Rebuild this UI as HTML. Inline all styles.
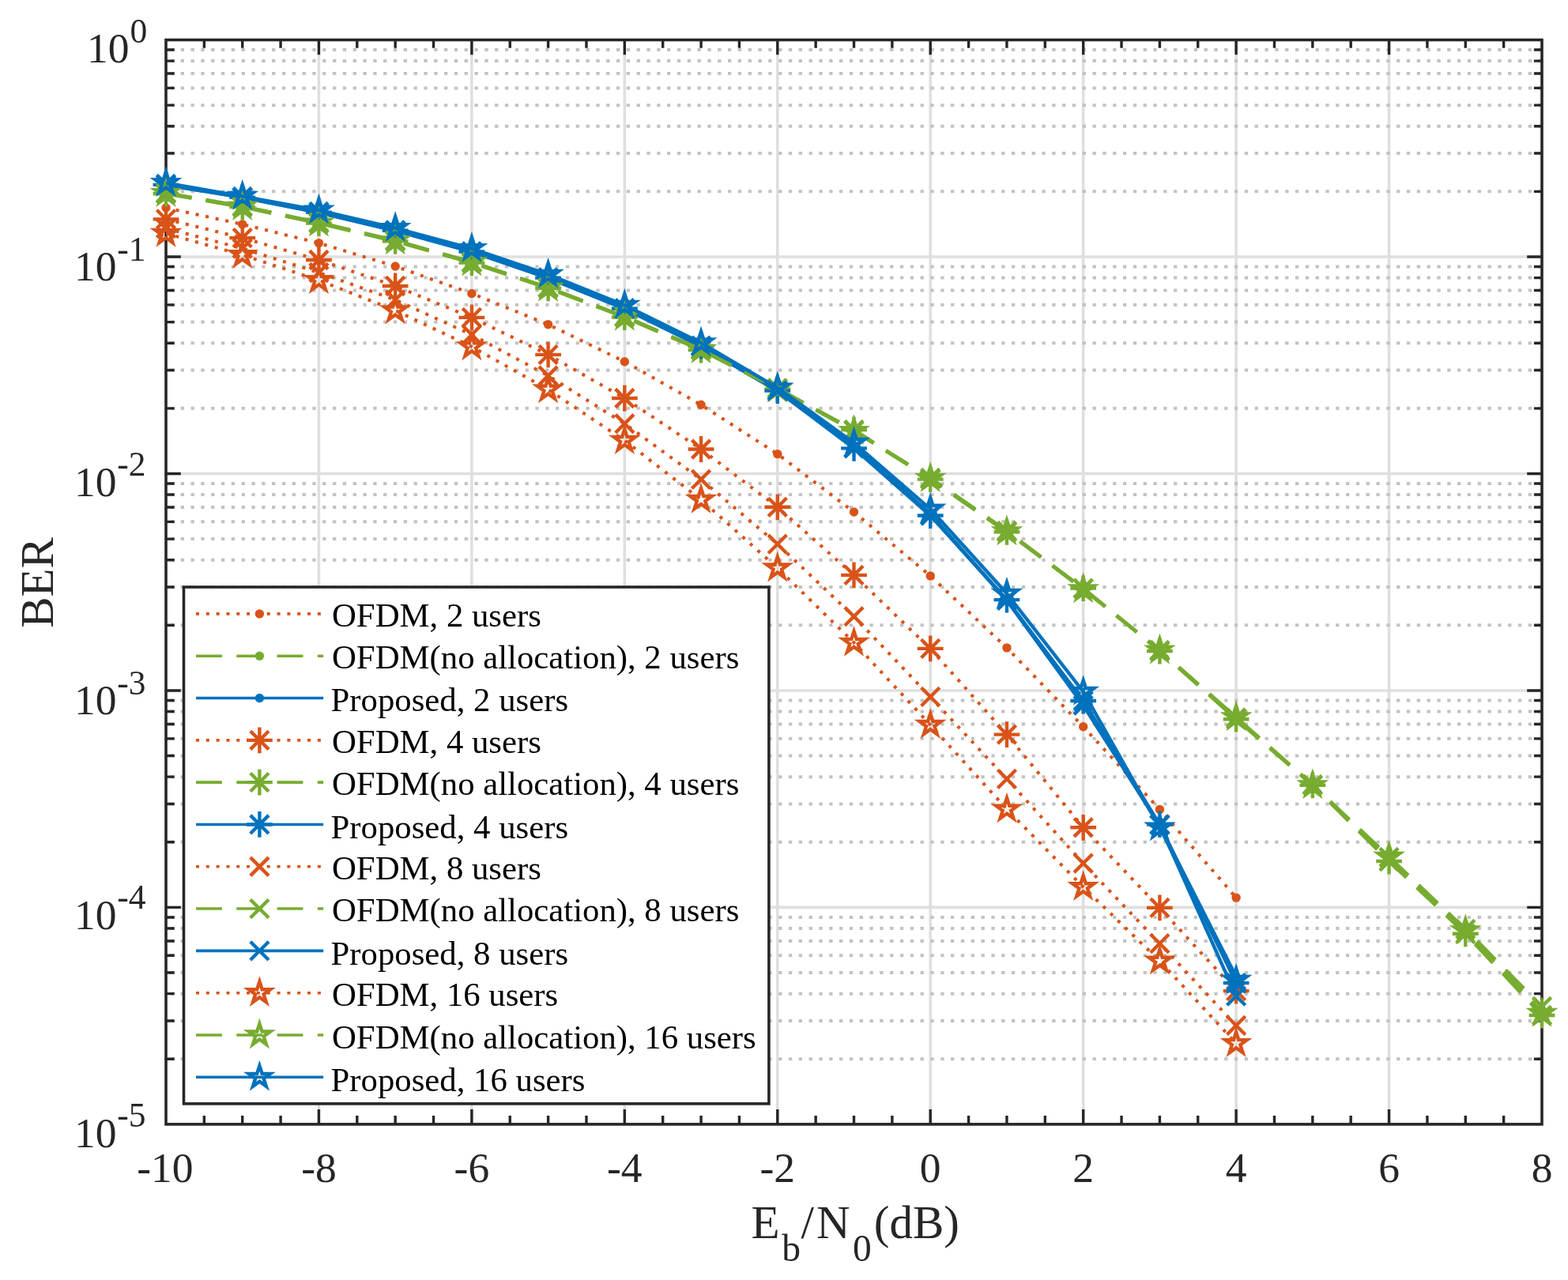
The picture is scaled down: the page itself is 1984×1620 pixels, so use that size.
<!DOCTYPE html>
<html lang="en"><head><meta charset="utf-8"><title>BER versus Eb/N0</title>
<style>html,body{margin:0;padding:0;background:#fff}body{width:1984px;height:1620px;overflow:hidden}svg{display:block}text{font-family:"Liberation Serif",serif}</style></head><body>
<svg width="1984" height="1620" viewBox="0 0 1984 1620" role="img" aria-label="BER versus Eb/N0 for OFDM and proposed schemes">
<rect width="1984" height="1620" fill="#fff"/>
<defs><clipPath id="plot"><rect x="210" y="50.5" width="1741" height="1372.4"/></clipPath></defs>
<path d="M403.44 50.5V1422.9M596.89 50.5V1422.9M790.33 50.5V1422.9M983.78 50.5V1422.9M1177.22 50.5V1422.9M1370.67 50.5V1422.9M1564.11 50.5V1422.9M1757.56 50.5V1422.9M210 324.98H1951M210 599.46H1951M210 873.94H1951M210 1148.42H1951" stroke="#dfdfdf" stroke-width="3.6" fill="none"/>
<g stroke="#c2c2c2" stroke-width="4" stroke-dasharray="4.3 8.52" stroke-dashoffset="6.94" fill="none">
<path d="M210 242.35H1951M210 194.02H1951M210 159.73H1951M210 133.13H1951M210 111.39H1951M210 93.02H1951M210 77.1H1951M210 63.06H1951M210 516.83H1951M210 468.5H1951M210 434.21H1951M210 407.61H1951M210 385.87H1951M210 367.5H1951M210 351.58H1951M210 337.54H1951M210 791.31H1951M210 742.98H1951M210 708.69H1951M210 682.09H1951M210 660.35H1951M210 641.98H1951M210 626.06H1951M210 612.02H1951M210 1065.79H1951M210 1017.46H1951M210 983.17H1951M210 956.57H1951M210 934.83H1951M210 916.46H1951M210 900.54H1951M210 886.5H1951M210 1340.27H1951M210 1291.94H1951M210 1257.65H1951M210 1231.05H1951M210 1209.31H1951M210 1190.94H1951M210 1175.02H1951M210 1160.98H1951"/>
</g>
<path d="M258.36 1422.9v-10.8M258.36 50.5v10.3M306.72 1422.9v-10.8M306.72 50.5v10.3M355.08 1422.9v-10.8M355.08 50.5v10.3M403.44 1422.9v-18.8M403.44 50.5v18.8M451.81 1422.9v-10.8M451.81 50.5v10.3M500.17 1422.9v-10.8M500.17 50.5v10.3M548.53 1422.9v-10.8M548.53 50.5v10.3M596.89 1422.9v-18.8M596.89 50.5v18.8M645.25 1422.9v-10.8M645.25 50.5v10.3M693.61 1422.9v-10.8M693.61 50.5v10.3M741.97 1422.9v-10.8M741.97 50.5v10.3M790.33 1422.9v-18.8M790.33 50.5v18.8M838.69 1422.9v-10.8M838.69 50.5v10.3M887.06 1422.9v-10.8M887.06 50.5v10.3M935.42 1422.9v-10.8M935.42 50.5v10.3M983.78 1422.9v-18.8M983.78 50.5v18.8M1032.14 1422.9v-10.8M1032.14 50.5v10.3M1080.5 1422.9v-10.8M1080.5 50.5v10.3M1128.86 1422.9v-10.8M1128.86 50.5v10.3M1177.22 1422.9v-18.8M1177.22 50.5v18.8M1225.58 1422.9v-10.8M1225.58 50.5v10.3M1273.94 1422.9v-10.8M1273.94 50.5v10.3M1322.31 1422.9v-10.8M1322.31 50.5v10.3M1370.67 1422.9v-18.8M1370.67 50.5v18.8M1419.03 1422.9v-10.8M1419.03 50.5v10.3M1467.39 1422.9v-10.8M1467.39 50.5v10.3M1515.75 1422.9v-10.8M1515.75 50.5v10.3M1564.11 1422.9v-18.8M1564.11 50.5v18.8M1612.47 1422.9v-10.8M1612.47 50.5v10.3M1660.83 1422.9v-10.8M1660.83 50.5v10.3M1709.19 1422.9v-10.8M1709.19 50.5v10.3M1757.56 1422.9v-18.8M1757.56 50.5v18.8M1805.92 1422.9v-10.8M1805.92 50.5v10.3M1854.28 1422.9v-10.8M1854.28 50.5v10.3M1902.64 1422.9v-10.8M1902.64 50.5v10.3M210 324.98h18.8M1951 324.98h-18.8M210 242.35h10.8M1951 242.35h-10.1M210 194.02h10.8M1951 194.02h-10.1M210 159.73h10.8M1951 159.73h-10.1M210 133.13h10.8M1951 133.13h-10.1M210 111.39h10.8M1951 111.39h-10.1M210 93.02h10.8M1951 93.02h-10.1M210 77.1h10.8M1951 77.1h-10.1M210 63.06h10.8M1951 63.06h-10.1M210 599.46h18.8M1951 599.46h-18.8M210 516.83h10.8M1951 516.83h-10.1M210 468.5h10.8M1951 468.5h-10.1M210 434.21h10.8M1951 434.21h-10.1M210 407.61h10.8M1951 407.61h-10.1M210 385.87h10.8M1951 385.87h-10.1M210 367.5h10.8M1951 367.5h-10.1M210 351.58h10.8M1951 351.58h-10.1M210 337.54h10.8M1951 337.54h-10.1M210 873.94h18.8M1951 873.94h-18.8M210 791.31h10.8M1951 791.31h-10.1M210 742.98h10.8M1951 742.98h-10.1M210 708.69h10.8M1951 708.69h-10.1M210 682.09h10.8M1951 682.09h-10.1M210 660.35h10.8M1951 660.35h-10.1M210 641.98h10.8M1951 641.98h-10.1M210 626.06h10.8M1951 626.06h-10.1M210 612.02h10.8M1951 612.02h-10.1M210 1148.42h18.8M1951 1148.42h-18.8M210 1065.79h10.8M1951 1065.79h-10.1M210 1017.46h10.8M1951 1017.46h-10.1M210 983.17h10.8M1951 983.17h-10.1M210 956.57h10.8M1951 956.57h-10.1M210 934.83h10.8M1951 934.83h-10.1M210 916.46h10.8M1951 916.46h-10.1M210 900.54h10.8M1951 900.54h-10.1M210 886.5h10.8M1951 886.5h-10.1M210 1340.27h10.8M1951 1340.27h-10.1M210 1291.94h10.8M1951 1291.94h-10.1M210 1257.65h10.8M1951 1257.65h-10.1M210 1231.05h10.8M1951 1231.05h-10.1M210 1209.31h10.8M1951 1209.31h-10.1M210 1190.94h10.8M1951 1190.94h-10.1M210 1175.02h10.8M1951 1175.02h-10.1M210 1160.98h10.8M1951 1160.98h-10.1" stroke="#262626" stroke-width="3.4" fill="none"/>
<rect x="210" y="50.5" width="1741" height="1372.4" fill="none" stroke="#262626" stroke-width="3.6"/>
<g>
<polyline points="210,263 306.72,283.9 403.44,307.6 500.17,337 596.89,371.5 693.61,410.6 790.33,457.7 887.06,512.3 983.78,574.6 1080.5,648 1177.22,728.9 1273.94,819.9 1370.67,919.8 1467.39,1024.4 1564.11,1136.1" fill="none" stroke="#D95319" stroke-width="4.1" stroke-dasharray="4 8.82" clip-path="url(#plot)"/>
<circle cx="210" cy="263" r="5.7" fill="#D95319"/><circle cx="306.72" cy="283.9" r="5.7" fill="#D95319"/><circle cx="403.44" cy="307.6" r="5.7" fill="#D95319"/><circle cx="500.17" cy="337" r="5.7" fill="#D95319"/><circle cx="596.89" cy="371.5" r="5.7" fill="#D95319"/><circle cx="693.61" cy="410.6" r="5.7" fill="#D95319"/><circle cx="790.33" cy="457.7" r="5.7" fill="#D95319"/><circle cx="887.06" cy="512.3" r="5.7" fill="#D95319"/><circle cx="983.78" cy="574.6" r="5.7" fill="#D95319"/><circle cx="1080.5" cy="648" r="5.7" fill="#D95319"/><circle cx="1177.22" cy="728.9" r="5.7" fill="#D95319"/><circle cx="1273.94" cy="819.9" r="5.7" fill="#D95319"/><circle cx="1370.67" cy="919.8" r="5.7" fill="#D95319"/><circle cx="1467.39" cy="1024.4" r="5.7" fill="#D95319"/><circle cx="1564.11" cy="1136.1" r="5.7" fill="#D95319"/>
</g>
<g>
<polyline points="210,244.8 306.72,261.6 403.44,282.2 500.17,305 596.89,332.2 693.61,364.4 790.33,401.2 887.06,442.6 983.78,492.2 1080.5,545.2 1177.22,605.8 1273.94,672.8 1370.67,745.2 1467.39,823.4 1564.11,909 1660.83,993.6 1757.56,1087 1854.28,1179.5 1951,1281" fill="none" stroke="#77AC30" stroke-width="4.4" stroke-dasharray="32.9 18.38" clip-path="url(#plot)"/>
<circle cx="210" cy="244.8" r="5.7" fill="#77AC30"/><circle cx="306.72" cy="261.6" r="5.7" fill="#77AC30"/><circle cx="403.44" cy="282.2" r="5.7" fill="#77AC30"/><circle cx="500.17" cy="305" r="5.7" fill="#77AC30"/><circle cx="596.89" cy="332.2" r="5.7" fill="#77AC30"/><circle cx="693.61" cy="364.4" r="5.7" fill="#77AC30"/><circle cx="790.33" cy="401.2" r="5.7" fill="#77AC30"/><circle cx="887.06" cy="442.6" r="5.7" fill="#77AC30"/><circle cx="983.78" cy="492.2" r="5.7" fill="#77AC30"/><circle cx="1080.5" cy="545.2" r="5.7" fill="#77AC30"/><circle cx="1177.22" cy="605.8" r="5.7" fill="#77AC30"/><circle cx="1273.94" cy="672.8" r="5.7" fill="#77AC30"/><circle cx="1370.67" cy="745.2" r="5.7" fill="#77AC30"/><circle cx="1467.39" cy="823.4" r="5.7" fill="#77AC30"/><circle cx="1564.11" cy="909" r="5.7" fill="#77AC30"/><circle cx="1660.83" cy="993.6" r="5.7" fill="#77AC30"/><circle cx="1757.56" cy="1087" r="5.7" fill="#77AC30"/><circle cx="1854.28" cy="1179.5" r="5.7" fill="#77AC30"/><circle cx="1951" cy="1281" r="5.7" fill="#77AC30"/>
</g>
<g>
<polyline points="210,234.2 306.72,250 403.44,269 500.17,292 596.89,318.7 693.61,351.8 790.33,390.8 887.06,438.2 983.78,494.9 1080.5,564 1177.22,650.5 1273.94,759.5 1370.67,890 1467.39,1045.5 1564.11,1236" fill="none" stroke="#0072BD" stroke-width="4.4" clip-path="url(#plot)"/>
<circle cx="210" cy="234.2" r="5.7" fill="#0072BD"/><circle cx="306.72" cy="250" r="5.7" fill="#0072BD"/><circle cx="403.44" cy="269" r="5.7" fill="#0072BD"/><circle cx="500.17" cy="292" r="5.7" fill="#0072BD"/><circle cx="596.89" cy="318.7" r="5.7" fill="#0072BD"/><circle cx="693.61" cy="351.8" r="5.7" fill="#0072BD"/><circle cx="790.33" cy="390.8" r="5.7" fill="#0072BD"/><circle cx="887.06" cy="438.2" r="5.7" fill="#0072BD"/><circle cx="983.78" cy="494.9" r="5.7" fill="#0072BD"/><circle cx="1080.5" cy="564" r="5.7" fill="#0072BD"/><circle cx="1177.22" cy="650.5" r="5.7" fill="#0072BD"/><circle cx="1273.94" cy="759.5" r="5.7" fill="#0072BD"/><circle cx="1370.67" cy="890" r="5.7" fill="#0072BD"/><circle cx="1467.39" cy="1045.5" r="5.7" fill="#0072BD"/><circle cx="1564.11" cy="1236" r="5.7" fill="#0072BD"/>
</g>
<g>
<polyline points="210,277.4 306.72,301.1 403.44,329 500.17,362 596.89,401.9 693.61,448.9 790.33,504 887.06,568.5 983.78,641.8 1080.5,727.9 1177.22,820.9 1273.94,929.6 1370.67,1047.3 1467.39,1148.9 1564.11,1254.1" fill="none" stroke="#D95319" stroke-width="4.1" stroke-dasharray="4 8.82" clip-path="url(#plot)"/>
<path d="M198.4 265.8L221.6 289M198.4 289L221.6 265.8M193.6 277.4H226.4M210 261V293.8" fill="none" stroke="#D95319" stroke-width="4.4"/><path d="M295.13 289.5L318.32 312.7M295.13 312.7L318.32 289.5M290.32 301.1H323.12M306.72 284.7V317.5" fill="none" stroke="#D95319" stroke-width="4.4"/><path d="M391.85 317.4L415.04 340.6M391.85 340.6L415.04 317.4M387.04 329H419.84M403.44 312.6V345.4" fill="none" stroke="#D95319" stroke-width="4.4"/><path d="M488.57 350.4L511.76 373.6M488.57 373.6L511.76 350.4M483.77 362H516.57M500.17 345.6V378.4" fill="none" stroke="#D95319" stroke-width="4.4"/><path d="M585.29 390.3L608.49 413.5M585.29 413.5L608.49 390.3M580.49 401.9H613.29M596.89 385.5V418.3" fill="none" stroke="#D95319" stroke-width="4.4"/><path d="M682.01 437.3L705.21 460.5M682.01 460.5L705.21 437.3M677.21 448.9H710.01M693.61 432.5V465.3" fill="none" stroke="#D95319" stroke-width="4.4"/><path d="M778.74 492.4L801.93 515.6M778.74 515.6L801.93 492.4M773.93 504H806.73M790.33 487.6V520.4" fill="none" stroke="#D95319" stroke-width="4.4"/><path d="M875.46 556.9L898.65 580.1M875.46 580.1L898.65 556.9M870.66 568.5H903.46M887.06 552.1V584.9" fill="none" stroke="#D95319" stroke-width="4.4"/><path d="M972.18 630.2L995.37 653.4M972.18 653.4L995.37 630.2M967.38 641.8H1000.18M983.78 625.4V658.2" fill="none" stroke="#D95319" stroke-width="4.4"/><path d="M1068.9 716.3L1092.1 739.5M1068.9 739.5L1092.1 716.3M1064.1 727.9H1096.9M1080.5 711.5V744.3" fill="none" stroke="#D95319" stroke-width="4.4"/><path d="M1165.63 809.3L1188.82 832.5M1165.63 832.5L1188.82 809.3M1160.82 820.9H1193.62M1177.22 804.5V837.3" fill="none" stroke="#D95319" stroke-width="4.4"/><path d="M1262.35 918L1285.54 941.2M1262.35 941.2L1285.54 918M1257.54 929.6H1290.34M1273.94 913.2V946" fill="none" stroke="#D95319" stroke-width="4.4"/><path d="M1359.07 1035.7L1382.26 1058.9M1359.07 1058.9L1382.26 1035.7M1354.27 1047.3H1387.07M1370.67 1030.9V1063.7" fill="none" stroke="#D95319" stroke-width="4.4"/><path d="M1455.79 1137.3L1478.99 1160.5M1455.79 1160.5L1478.99 1137.3M1450.99 1148.9H1483.79M1467.39 1132.5V1165.3" fill="none" stroke="#D95319" stroke-width="4.4"/><path d="M1552.51 1242.5L1575.71 1265.7M1552.51 1265.7L1575.71 1242.5M1547.71 1254.1H1580.51M1564.11 1237.7V1270.5" fill="none" stroke="#D95319" stroke-width="4.4"/>
</g>
<g>
<polyline points="210,245.2 306.72,262 403.44,282.6 500.17,305.4 596.89,332.6 693.61,364.8 790.33,401.5 887.06,443 983.78,492.4 1080.5,544 1177.22,606.6 1273.94,673.3 1370.67,744.6 1467.39,824 1564.11,910.2 1660.83,993.9 1757.56,1090 1854.28,1181.8 1951,1285" fill="none" stroke="#77AC30" stroke-width="4.4" stroke-dasharray="32.9 18.38" clip-path="url(#plot)"/>
<path d="M198.4 233.6L221.6 256.8M198.4 256.8L221.6 233.6M193.6 245.2H226.4M210 228.8V261.6" fill="none" stroke="#77AC30" stroke-width="4.4"/><path d="M295.13 250.4L318.32 273.6M295.13 273.6L318.32 250.4M290.32 262H323.12M306.72 245.6V278.4" fill="none" stroke="#77AC30" stroke-width="4.4"/><path d="M391.85 271L415.04 294.2M391.85 294.2L415.04 271M387.04 282.6H419.84M403.44 266.2V299" fill="none" stroke="#77AC30" stroke-width="4.4"/><path d="M488.57 293.8L511.76 317M488.57 317L511.76 293.8M483.77 305.4H516.57M500.17 289V321.8" fill="none" stroke="#77AC30" stroke-width="4.4"/><path d="M585.29 321L608.49 344.2M585.29 344.2L608.49 321M580.49 332.6H613.29M596.89 316.2V349" fill="none" stroke="#77AC30" stroke-width="4.4"/><path d="M682.01 353.2L705.21 376.4M682.01 376.4L705.21 353.2M677.21 364.8H710.01M693.61 348.4V381.2" fill="none" stroke="#77AC30" stroke-width="4.4"/><path d="M778.74 389.9L801.93 413.1M778.74 413.1L801.93 389.9M773.93 401.5H806.73M790.33 385.1V417.9" fill="none" stroke="#77AC30" stroke-width="4.4"/><path d="M875.46 431.4L898.65 454.6M875.46 454.6L898.65 431.4M870.66 443H903.46M887.06 426.6V459.4" fill="none" stroke="#77AC30" stroke-width="4.4"/><path d="M972.18 480.8L995.37 504M972.18 504L995.37 480.8M967.38 492.4H1000.18M983.78 476V508.8" fill="none" stroke="#77AC30" stroke-width="4.4"/><path d="M1068.9 532.4L1092.1 555.6M1068.9 555.6L1092.1 532.4M1064.1 544H1096.9M1080.5 527.6V560.4" fill="none" stroke="#77AC30" stroke-width="4.4"/><path d="M1165.63 595L1188.82 618.2M1165.63 618.2L1188.82 595M1160.82 606.6H1193.62M1177.22 590.2V623" fill="none" stroke="#77AC30" stroke-width="4.4"/><path d="M1262.35 661.7L1285.54 684.9M1262.35 684.9L1285.54 661.7M1257.54 673.3H1290.34M1273.94 656.9V689.7" fill="none" stroke="#77AC30" stroke-width="4.4"/><path d="M1359.07 733L1382.26 756.2M1359.07 756.2L1382.26 733M1354.27 744.6H1387.07M1370.67 728.2V761" fill="none" stroke="#77AC30" stroke-width="4.4"/><path d="M1455.79 812.4L1478.99 835.6M1455.79 835.6L1478.99 812.4M1450.99 824H1483.79M1467.39 807.6V840.4" fill="none" stroke="#77AC30" stroke-width="4.4"/><path d="M1552.51 898.6L1575.71 921.8M1552.51 921.8L1575.71 898.6M1547.71 910.2H1580.51M1564.11 893.8V926.6" fill="none" stroke="#77AC30" stroke-width="4.4"/><path d="M1649.24 982.3L1672.43 1005.5M1649.24 1005.5L1672.43 982.3M1644.43 993.9H1677.23M1660.83 977.5V1010.3" fill="none" stroke="#77AC30" stroke-width="4.4"/><path d="M1745.96 1078.4L1769.15 1101.6M1745.96 1101.6L1769.15 1078.4M1741.16 1090H1773.96M1757.56 1073.6V1106.4" fill="none" stroke="#77AC30" stroke-width="4.4"/><path d="M1842.68 1170.2L1865.87 1193.4M1842.68 1193.4L1865.87 1170.2M1837.88 1181.8H1870.68M1854.28 1165.4V1198.2" fill="none" stroke="#77AC30" stroke-width="4.4"/><path d="M1939.4 1273.4L1962.6 1296.6M1939.4 1296.6L1962.6 1273.4M1934.6 1285H1967.4M1951 1268.6V1301.4" fill="none" stroke="#77AC30" stroke-width="4.4"/>
</g>
<g>
<polyline points="210,233.9 306.72,249.7 403.44,268.8 500.17,291.8 596.89,318.5 693.61,351.6 790.33,390.5 887.06,437.9 983.78,494.6 1080.5,567.4 1177.22,652.5 1273.94,759.1 1370.67,887 1467.39,1043.5 1564.11,1244.1" fill="none" stroke="#0072BD" stroke-width="4.4" clip-path="url(#plot)"/>
<path d="M198.4 222.3L221.6 245.5M198.4 245.5L221.6 222.3M193.6 233.9H226.4M210 217.5V250.3" fill="none" stroke="#0072BD" stroke-width="4.4"/><path d="M295.13 238.1L318.32 261.3M295.13 261.3L318.32 238.1M290.32 249.7H323.12M306.72 233.3V266.1" fill="none" stroke="#0072BD" stroke-width="4.4"/><path d="M391.85 257.2L415.04 280.4M391.85 280.4L415.04 257.2M387.04 268.8H419.84M403.44 252.4V285.2" fill="none" stroke="#0072BD" stroke-width="4.4"/><path d="M488.57 280.2L511.76 303.4M488.57 303.4L511.76 280.2M483.77 291.8H516.57M500.17 275.4V308.2" fill="none" stroke="#0072BD" stroke-width="4.4"/><path d="M585.29 306.9L608.49 330.1M585.29 330.1L608.49 306.9M580.49 318.5H613.29M596.89 302.1V334.9" fill="none" stroke="#0072BD" stroke-width="4.4"/><path d="M682.01 340L705.21 363.2M682.01 363.2L705.21 340M677.21 351.6H710.01M693.61 335.2V368" fill="none" stroke="#0072BD" stroke-width="4.4"/><path d="M778.74 378.9L801.93 402.1M778.74 402.1L801.93 378.9M773.93 390.5H806.73M790.33 374.1V406.9" fill="none" stroke="#0072BD" stroke-width="4.4"/><path d="M875.46 426.3L898.65 449.5M875.46 449.5L898.65 426.3M870.66 437.9H903.46M887.06 421.5V454.3" fill="none" stroke="#0072BD" stroke-width="4.4"/><path d="M972.18 483L995.37 506.2M972.18 506.2L995.37 483M967.38 494.6H1000.18M983.78 478.2V511" fill="none" stroke="#0072BD" stroke-width="4.4"/><path d="M1068.9 555.8L1092.1 579M1068.9 579L1092.1 555.8M1064.1 567.4H1096.9M1080.5 551V583.8" fill="none" stroke="#0072BD" stroke-width="4.4"/><path d="M1165.63 640.9L1188.82 664.1M1165.63 664.1L1188.82 640.9M1160.82 652.5H1193.62M1177.22 636.1V668.9" fill="none" stroke="#0072BD" stroke-width="4.4"/><path d="M1262.35 747.5L1285.54 770.7M1262.35 770.7L1285.54 747.5M1257.54 759.1H1290.34M1273.94 742.7V775.5" fill="none" stroke="#0072BD" stroke-width="4.4"/><path d="M1359.07 875.4L1382.26 898.6M1359.07 898.6L1382.26 875.4M1354.27 887H1387.07M1370.67 870.6V903.4" fill="none" stroke="#0072BD" stroke-width="4.4"/><path d="M1455.79 1031.9L1478.99 1055.1M1455.79 1055.1L1478.99 1031.9M1450.99 1043.5H1483.79M1467.39 1027.1V1059.9" fill="none" stroke="#0072BD" stroke-width="4.4"/><path d="M1552.51 1232.5L1575.71 1255.7M1552.51 1255.7L1575.71 1232.5M1547.71 1244.1H1580.51M1564.11 1227.7V1260.5" fill="none" stroke="#0072BD" stroke-width="4.4"/>
</g>
<g>
<polyline points="210,289 306.72,314.5 403.44,345 500.17,379.5 596.89,423.6 693.61,475.5 790.33,536.2 887.06,606.7 983.78,688.6 1080.5,780.2 1177.22,881.9 1273.94,985.9 1370.67,1092.6 1467.39,1194.1 1564.11,1297.9" fill="none" stroke="#D95319" stroke-width="4.1" stroke-dasharray="4 8.82" clip-path="url(#plot)"/>
<path d="M198.4 277.4L221.6 300.6M198.4 300.6L221.6 277.4" fill="none" stroke="#D95319" stroke-width="4.4"/><path d="M295.13 302.9L318.32 326.1M295.13 326.1L318.32 302.9" fill="none" stroke="#D95319" stroke-width="4.4"/><path d="M391.85 333.4L415.04 356.6M391.85 356.6L415.04 333.4" fill="none" stroke="#D95319" stroke-width="4.4"/><path d="M488.57 367.9L511.76 391.1M488.57 391.1L511.76 367.9" fill="none" stroke="#D95319" stroke-width="4.4"/><path d="M585.29 412L608.49 435.2M585.29 435.2L608.49 412" fill="none" stroke="#D95319" stroke-width="4.4"/><path d="M682.01 463.9L705.21 487.1M682.01 487.1L705.21 463.9" fill="none" stroke="#D95319" stroke-width="4.4"/><path d="M778.74 524.6L801.93 547.8M778.74 547.8L801.93 524.6" fill="none" stroke="#D95319" stroke-width="4.4"/><path d="M875.46 595.1L898.65 618.3M875.46 618.3L898.65 595.1" fill="none" stroke="#D95319" stroke-width="4.4"/><path d="M972.18 677L995.37 700.2M972.18 700.2L995.37 677" fill="none" stroke="#D95319" stroke-width="4.4"/><path d="M1068.9 768.6L1092.1 791.8M1068.9 791.8L1092.1 768.6" fill="none" stroke="#D95319" stroke-width="4.4"/><path d="M1165.63 870.3L1188.82 893.5M1165.63 893.5L1188.82 870.3" fill="none" stroke="#D95319" stroke-width="4.4"/><path d="M1262.35 974.3L1285.54 997.5M1262.35 997.5L1285.54 974.3" fill="none" stroke="#D95319" stroke-width="4.4"/><path d="M1359.07 1081L1382.26 1104.2M1359.07 1104.2L1382.26 1081" fill="none" stroke="#D95319" stroke-width="4.4"/><path d="M1455.79 1182.5L1478.99 1205.7M1455.79 1205.7L1478.99 1182.5" fill="none" stroke="#D95319" stroke-width="4.4"/><path d="M1552.51 1286.3L1575.71 1309.5M1552.51 1309.5L1575.71 1286.3" fill="none" stroke="#D95319" stroke-width="4.4"/>
</g>
<g>
<polyline points="210,244.2 306.72,261 403.44,281.6 500.17,304.4 596.89,331.6 693.61,363.8 790.33,400.6 887.06,442 983.78,491.2 1080.5,545 1177.22,605 1273.94,672 1370.67,745 1467.39,823 1564.11,908.5 1660.83,993 1757.56,1085 1854.28,1176 1951,1274" fill="none" stroke="#77AC30" stroke-width="4.4" stroke-dasharray="32.9 18.38" clip-path="url(#plot)"/>
<path d="M198.4 232.6L221.6 255.8M198.4 255.8L221.6 232.6" fill="none" stroke="#77AC30" stroke-width="4.4"/><path d="M295.13 249.4L318.32 272.6M295.13 272.6L318.32 249.4" fill="none" stroke="#77AC30" stroke-width="4.4"/><path d="M391.85 270L415.04 293.2M391.85 293.2L415.04 270" fill="none" stroke="#77AC30" stroke-width="4.4"/><path d="M488.57 292.8L511.76 316M488.57 316L511.76 292.8" fill="none" stroke="#77AC30" stroke-width="4.4"/><path d="M585.29 320L608.49 343.2M585.29 343.2L608.49 320" fill="none" stroke="#77AC30" stroke-width="4.4"/><path d="M682.01 352.2L705.21 375.4M682.01 375.4L705.21 352.2" fill="none" stroke="#77AC30" stroke-width="4.4"/><path d="M778.74 389L801.93 412.2M778.74 412.2L801.93 389" fill="none" stroke="#77AC30" stroke-width="4.4"/><path d="M875.46 430.4L898.65 453.6M875.46 453.6L898.65 430.4" fill="none" stroke="#77AC30" stroke-width="4.4"/><path d="M972.18 479.6L995.37 502.8M972.18 502.8L995.37 479.6" fill="none" stroke="#77AC30" stroke-width="4.4"/><path d="M1068.9 533.4L1092.1 556.6M1068.9 556.6L1092.1 533.4" fill="none" stroke="#77AC30" stroke-width="4.4"/><path d="M1165.63 593.4L1188.82 616.6M1165.63 616.6L1188.82 593.4" fill="none" stroke="#77AC30" stroke-width="4.4"/><path d="M1262.35 660.4L1285.54 683.6M1262.35 683.6L1285.54 660.4" fill="none" stroke="#77AC30" stroke-width="4.4"/><path d="M1359.07 733.4L1382.26 756.6M1359.07 756.6L1382.26 733.4" fill="none" stroke="#77AC30" stroke-width="4.4"/><path d="M1455.79 811.4L1478.99 834.6M1455.79 834.6L1478.99 811.4" fill="none" stroke="#77AC30" stroke-width="4.4"/><path d="M1552.51 896.9L1575.71 920.1M1552.51 920.1L1575.71 896.9" fill="none" stroke="#77AC30" stroke-width="4.4"/><path d="M1649.24 981.4L1672.43 1004.6M1649.24 1004.6L1672.43 981.4" fill="none" stroke="#77AC30" stroke-width="4.4"/><path d="M1745.96 1073.4L1769.15 1096.6M1745.96 1096.6L1769.15 1073.4" fill="none" stroke="#77AC30" stroke-width="4.4"/><path d="M1842.68 1164.4L1865.87 1187.6M1842.68 1187.6L1865.87 1164.4" fill="none" stroke="#77AC30" stroke-width="4.4"/><path d="M1939.4 1262.4L1962.6 1285.6M1939.4 1285.6L1962.6 1262.4" fill="none" stroke="#77AC30" stroke-width="4.4"/>
</g>
<g>
<polyline points="210,233 306.72,249 403.44,268 500.17,291.4 596.89,318.3 693.61,351.3 790.33,390.2 887.06,437.6 983.78,494.5 1080.5,566.4 1177.22,651.5 1273.94,759.9 1370.67,892.7 1467.39,1044.1 1564.11,1260.7" fill="none" stroke="#0072BD" stroke-width="4.4" clip-path="url(#plot)"/>
<path d="M198.4 221.4L221.6 244.6M198.4 244.6L221.6 221.4" fill="none" stroke="#0072BD" stroke-width="4.4"/><path d="M295.13 237.4L318.32 260.6M295.13 260.6L318.32 237.4" fill="none" stroke="#0072BD" stroke-width="4.4"/><path d="M391.85 256.4L415.04 279.6M391.85 279.6L415.04 256.4" fill="none" stroke="#0072BD" stroke-width="4.4"/><path d="M488.57 279.8L511.76 303M488.57 303L511.76 279.8" fill="none" stroke="#0072BD" stroke-width="4.4"/><path d="M585.29 306.7L608.49 329.9M585.29 329.9L608.49 306.7" fill="none" stroke="#0072BD" stroke-width="4.4"/><path d="M682.01 339.7L705.21 362.9M682.01 362.9L705.21 339.7" fill="none" stroke="#0072BD" stroke-width="4.4"/><path d="M778.74 378.6L801.93 401.8M778.74 401.8L801.93 378.6" fill="none" stroke="#0072BD" stroke-width="4.4"/><path d="M875.46 426L898.65 449.2M875.46 449.2L898.65 426" fill="none" stroke="#0072BD" stroke-width="4.4"/><path d="M972.18 482.9L995.37 506.1M972.18 506.1L995.37 482.9" fill="none" stroke="#0072BD" stroke-width="4.4"/><path d="M1068.9 554.8L1092.1 578M1068.9 578L1092.1 554.8" fill="none" stroke="#0072BD" stroke-width="4.4"/><path d="M1165.63 639.9L1188.82 663.1M1165.63 663.1L1188.82 639.9" fill="none" stroke="#0072BD" stroke-width="4.4"/><path d="M1262.35 748.3L1285.54 771.5M1262.35 771.5L1285.54 748.3" fill="none" stroke="#0072BD" stroke-width="4.4"/><path d="M1359.07 881.1L1382.26 904.3M1359.07 904.3L1382.26 881.1" fill="none" stroke="#0072BD" stroke-width="4.4"/><path d="M1455.79 1032.5L1478.99 1055.7M1455.79 1055.7L1478.99 1032.5" fill="none" stroke="#0072BD" stroke-width="4.4"/><path d="M1552.51 1249.1L1575.71 1272.3M1552.51 1272.3L1575.71 1249.1" fill="none" stroke="#0072BD" stroke-width="4.4"/>
</g>
<g>
<polyline points="210,295.4 306.72,322.7 403.44,354.6 500.17,392.9 596.89,438.8 693.61,493 790.33,557.5 887.06,632.4 983.78,719 1080.5,813.3 1177.22,917.5 1273.94,1024.2 1370.67,1122.7 1467.39,1216.2 1564.11,1320.6" fill="none" stroke="#D95319" stroke-width="4.1" stroke-dasharray="4 8.82" clip-path="url(#plot)"/>
<polygon points="210,281 213.23,290.95 223.7,290.95 215.23,297.1 218.46,307.05 210,300.9 201.54,307.05 204.77,297.1 196.3,290.95 206.77,290.95" fill="none" stroke="#D95319" stroke-width="4.4" stroke-linejoin="miter" stroke-miterlimit="10"/><polygon points="306.72,308.3 309.96,318.25 320.42,318.25 311.95,324.4 315.19,334.35 306.72,328.2 298.26,334.35 301.49,324.4 293.03,318.25 303.49,318.25" fill="none" stroke="#D95319" stroke-width="4.4" stroke-linejoin="miter" stroke-miterlimit="10"/><polygon points="403.44,340.2 406.68,350.15 417.14,350.15 408.68,356.3 411.91,366.25 403.44,360.1 394.98,366.25 398.21,356.3 389.75,350.15 400.21,350.15" fill="none" stroke="#D95319" stroke-width="4.4" stroke-linejoin="miter" stroke-miterlimit="10"/><polygon points="500.17,378.5 503.4,388.45 513.86,388.45 505.4,394.6 508.63,404.55 500.17,398.4 491.7,404.55 494.94,394.6 486.47,388.45 496.93,388.45" fill="none" stroke="#D95319" stroke-width="4.4" stroke-linejoin="miter" stroke-miterlimit="10"/><polygon points="596.89,424.4 600.12,434.35 610.58,434.35 602.12,440.5 605.35,450.45 596.89,444.3 588.42,450.45 591.66,440.5 583.19,434.35 593.66,434.35" fill="none" stroke="#D95319" stroke-width="4.4" stroke-linejoin="miter" stroke-miterlimit="10"/><polygon points="693.61,478.6 696.84,488.55 707.31,488.55 698.84,494.7 702.08,504.65 693.61,498.5 685.15,504.65 688.38,494.7 679.92,488.55 690.38,488.55" fill="none" stroke="#D95319" stroke-width="4.4" stroke-linejoin="miter" stroke-miterlimit="10"/><polygon points="790.33,543.1 793.57,553.05 804.03,553.05 795.56,559.2 798.8,569.15 790.33,563 781.87,569.15 785.1,559.2 776.64,553.05 787.1,553.05" fill="none" stroke="#D95319" stroke-width="4.4" stroke-linejoin="miter" stroke-miterlimit="10"/><polygon points="887.06,618 890.29,627.95 900.75,627.95 892.29,634.1 895.52,644.05 887.06,637.9 878.59,644.05 881.82,634.1 873.36,627.95 883.82,627.95" fill="none" stroke="#D95319" stroke-width="4.4" stroke-linejoin="miter" stroke-miterlimit="10"/><polygon points="983.78,704.6 987.01,714.55 997.47,714.55 989.01,720.7 992.24,730.65 983.78,724.5 975.31,730.65 978.55,720.7 970.08,714.55 980.54,714.55" fill="none" stroke="#D95319" stroke-width="4.4" stroke-linejoin="miter" stroke-miterlimit="10"/><polygon points="1080.5,798.9 1083.73,808.85 1094.2,808.85 1085.73,815 1088.96,824.95 1080.5,818.8 1072.04,824.95 1075.27,815 1066.8,808.85 1077.27,808.85" fill="none" stroke="#D95319" stroke-width="4.4" stroke-linejoin="miter" stroke-miterlimit="10"/><polygon points="1177.22,903.1 1180.46,913.05 1190.92,913.05 1182.45,919.2 1185.69,929.15 1177.22,923 1168.76,929.15 1171.99,919.2 1163.53,913.05 1173.99,913.05" fill="none" stroke="#D95319" stroke-width="4.4" stroke-linejoin="miter" stroke-miterlimit="10"/><polygon points="1273.94,1009.8 1277.18,1019.75 1287.64,1019.75 1279.18,1025.9 1282.41,1035.85 1273.94,1029.7 1265.48,1035.85 1268.71,1025.9 1260.25,1019.75 1270.71,1019.75" fill="none" stroke="#D95319" stroke-width="4.4" stroke-linejoin="miter" stroke-miterlimit="10"/><polygon points="1370.67,1108.3 1373.9,1118.25 1384.36,1118.25 1375.9,1124.4 1379.13,1134.35 1370.67,1128.2 1362.2,1134.35 1365.44,1124.4 1356.97,1118.25 1367.43,1118.25" fill="none" stroke="#D95319" stroke-width="4.4" stroke-linejoin="miter" stroke-miterlimit="10"/><polygon points="1467.39,1201.8 1470.62,1211.75 1481.08,1211.75 1472.62,1217.9 1475.85,1227.85 1467.39,1221.7 1458.92,1227.85 1462.16,1217.9 1453.69,1211.75 1464.16,1211.75" fill="none" stroke="#D95319" stroke-width="4.4" stroke-linejoin="miter" stroke-miterlimit="10"/><polygon points="1564.11,1306.2 1567.34,1316.15 1577.81,1316.15 1569.34,1322.3 1572.58,1332.25 1564.11,1326.1 1555.65,1332.25 1558.88,1322.3 1550.42,1316.15 1560.88,1316.15" fill="none" stroke="#D95319" stroke-width="4.4" stroke-linejoin="miter" stroke-miterlimit="10"/>
</g>
<g>
<polyline points="210,244.6 306.72,261.5 403.44,282.1 500.17,304.8 596.89,332 693.61,364.3 790.33,401 887.06,442.5 983.78,492 1080.5,545.6 1177.22,605.5 1273.94,672.8 1370.67,745.8 1467.39,823.1 1564.11,907.8 1660.83,993.8 1757.56,1084.5 1854.28,1177.8 1951,1282.4" fill="none" stroke="#77AC30" stroke-width="4.4" stroke-dasharray="32.9 18.38" clip-path="url(#plot)"/>
<polygon points="210,230.2 213.23,240.15 223.7,240.15 215.23,246.3 218.46,256.25 210,250.1 201.54,256.25 204.77,246.3 196.3,240.15 206.77,240.15" fill="none" stroke="#77AC30" stroke-width="4.4" stroke-linejoin="miter" stroke-miterlimit="10"/><polygon points="306.72,247.1 309.96,257.05 320.42,257.05 311.95,263.2 315.19,273.15 306.72,267 298.26,273.15 301.49,263.2 293.03,257.05 303.49,257.05" fill="none" stroke="#77AC30" stroke-width="4.4" stroke-linejoin="miter" stroke-miterlimit="10"/><polygon points="403.44,267.7 406.68,277.65 417.14,277.65 408.68,283.8 411.91,293.75 403.44,287.6 394.98,293.75 398.21,283.8 389.75,277.65 400.21,277.65" fill="none" stroke="#77AC30" stroke-width="4.4" stroke-linejoin="miter" stroke-miterlimit="10"/><polygon points="500.17,290.4 503.4,300.35 513.86,300.35 505.4,306.5 508.63,316.45 500.17,310.3 491.7,316.45 494.94,306.5 486.47,300.35 496.93,300.35" fill="none" stroke="#77AC30" stroke-width="4.4" stroke-linejoin="miter" stroke-miterlimit="10"/><polygon points="596.89,317.6 600.12,327.55 610.58,327.55 602.12,333.7 605.35,343.65 596.89,337.5 588.42,343.65 591.66,333.7 583.19,327.55 593.66,327.55" fill="none" stroke="#77AC30" stroke-width="4.4" stroke-linejoin="miter" stroke-miterlimit="10"/><polygon points="693.61,349.9 696.84,359.85 707.31,359.85 698.84,366 702.08,375.95 693.61,369.8 685.15,375.95 688.38,366 679.92,359.85 690.38,359.85" fill="none" stroke="#77AC30" stroke-width="4.4" stroke-linejoin="miter" stroke-miterlimit="10"/><polygon points="790.33,386.6 793.57,396.55 804.03,396.55 795.56,402.7 798.8,412.65 790.33,406.5 781.87,412.65 785.1,402.7 776.64,396.55 787.1,396.55" fill="none" stroke="#77AC30" stroke-width="4.4" stroke-linejoin="miter" stroke-miterlimit="10"/><polygon points="887.06,428.1 890.29,438.05 900.75,438.05 892.29,444.2 895.52,454.15 887.06,448 878.59,454.15 881.82,444.2 873.36,438.05 883.82,438.05" fill="none" stroke="#77AC30" stroke-width="4.4" stroke-linejoin="miter" stroke-miterlimit="10"/><polygon points="983.78,477.6 987.01,487.55 997.47,487.55 989.01,493.7 992.24,503.65 983.78,497.5 975.31,503.65 978.55,493.7 970.08,487.55 980.54,487.55" fill="none" stroke="#77AC30" stroke-width="4.4" stroke-linejoin="miter" stroke-miterlimit="10"/><polygon points="1080.5,531.2 1083.73,541.15 1094.2,541.15 1085.73,547.3 1088.96,557.25 1080.5,551.1 1072.04,557.25 1075.27,547.3 1066.8,541.15 1077.27,541.15" fill="none" stroke="#77AC30" stroke-width="4.4" stroke-linejoin="miter" stroke-miterlimit="10"/><polygon points="1177.22,591.1 1180.46,601.05 1190.92,601.05 1182.45,607.2 1185.69,617.15 1177.22,611 1168.76,617.15 1171.99,607.2 1163.53,601.05 1173.99,601.05" fill="none" stroke="#77AC30" stroke-width="4.4" stroke-linejoin="miter" stroke-miterlimit="10"/><polygon points="1273.94,658.4 1277.18,668.35 1287.64,668.35 1279.18,674.5 1282.41,684.45 1273.94,678.3 1265.48,684.45 1268.71,674.5 1260.25,668.35 1270.71,668.35" fill="none" stroke="#77AC30" stroke-width="4.4" stroke-linejoin="miter" stroke-miterlimit="10"/><polygon points="1370.67,731.4 1373.9,741.35 1384.36,741.35 1375.9,747.5 1379.13,757.45 1370.67,751.3 1362.2,757.45 1365.44,747.5 1356.97,741.35 1367.43,741.35" fill="none" stroke="#77AC30" stroke-width="4.4" stroke-linejoin="miter" stroke-miterlimit="10"/><polygon points="1467.39,808.7 1470.62,818.65 1481.08,818.65 1472.62,824.8 1475.85,834.75 1467.39,828.6 1458.92,834.75 1462.16,824.8 1453.69,818.65 1464.16,818.65" fill="none" stroke="#77AC30" stroke-width="4.4" stroke-linejoin="miter" stroke-miterlimit="10"/><polygon points="1564.11,893.4 1567.34,903.35 1577.81,903.35 1569.34,909.5 1572.58,919.45 1564.11,913.3 1555.65,919.45 1558.88,909.5 1550.42,903.35 1560.88,903.35" fill="none" stroke="#77AC30" stroke-width="4.4" stroke-linejoin="miter" stroke-miterlimit="10"/><polygon points="1660.83,979.4 1664.07,989.35 1674.53,989.35 1666.06,995.5 1669.3,1005.45 1660.83,999.3 1652.37,1005.45 1655.6,995.5 1647.14,989.35 1657.6,989.35" fill="none" stroke="#77AC30" stroke-width="4.4" stroke-linejoin="miter" stroke-miterlimit="10"/><polygon points="1757.56,1070.1 1760.79,1080.05 1771.25,1080.05 1762.79,1086.2 1766.02,1096.15 1757.56,1090 1749.09,1096.15 1752.32,1086.2 1743.86,1080.05 1754.32,1080.05" fill="none" stroke="#77AC30" stroke-width="4.4" stroke-linejoin="miter" stroke-miterlimit="10"/><polygon points="1854.28,1163.4 1857.51,1173.35 1867.97,1173.35 1859.51,1179.5 1862.74,1189.45 1854.28,1183.3 1845.81,1189.45 1849.05,1179.5 1840.58,1173.35 1851.04,1173.35" fill="none" stroke="#77AC30" stroke-width="4.4" stroke-linejoin="miter" stroke-miterlimit="10"/><polygon points="1951,1268 1954.23,1277.95 1964.7,1277.95 1956.23,1284.1 1959.46,1294.05 1951,1287.9 1942.54,1294.05 1945.77,1284.1 1937.3,1277.95 1947.77,1277.95" fill="none" stroke="#77AC30" stroke-width="4.4" stroke-linejoin="miter" stroke-miterlimit="10"/>
</g>
<g>
<polyline points="210,231.7 306.72,248.3 403.44,266.2 500.17,288.6 596.89,314.6 693.61,347.4 790.33,386.3 887.06,433.9 983.78,490.8 1080.5,560.5 1177.22,644.2 1273.94,751.3 1370.67,875.4 1467.39,1047.1 1564.11,1240.3" fill="none" stroke="#0072BD" stroke-width="4.4" clip-path="url(#plot)"/>
<polygon points="210,217.3 213.23,227.25 223.7,227.25 215.23,233.4 218.46,243.35 210,237.2 201.54,243.35 204.77,233.4 196.3,227.25 206.77,227.25" fill="none" stroke="#0072BD" stroke-width="4.4" stroke-linejoin="miter" stroke-miterlimit="10"/><polygon points="306.72,233.9 309.96,243.85 320.42,243.85 311.95,250 315.19,259.95 306.72,253.8 298.26,259.95 301.49,250 293.03,243.85 303.49,243.85" fill="none" stroke="#0072BD" stroke-width="4.4" stroke-linejoin="miter" stroke-miterlimit="10"/><polygon points="403.44,251.8 406.68,261.75 417.14,261.75 408.68,267.9 411.91,277.85 403.44,271.7 394.98,277.85 398.21,267.9 389.75,261.75 400.21,261.75" fill="none" stroke="#0072BD" stroke-width="4.4" stroke-linejoin="miter" stroke-miterlimit="10"/><polygon points="500.17,274.2 503.4,284.15 513.86,284.15 505.4,290.3 508.63,300.25 500.17,294.1 491.7,300.25 494.94,290.3 486.47,284.15 496.93,284.15" fill="none" stroke="#0072BD" stroke-width="4.4" stroke-linejoin="miter" stroke-miterlimit="10"/><polygon points="596.89,300.2 600.12,310.15 610.58,310.15 602.12,316.3 605.35,326.25 596.89,320.1 588.42,326.25 591.66,316.3 583.19,310.15 593.66,310.15" fill="none" stroke="#0072BD" stroke-width="4.4" stroke-linejoin="miter" stroke-miterlimit="10"/><polygon points="693.61,333 696.84,342.95 707.31,342.95 698.84,349.1 702.08,359.05 693.61,352.9 685.15,359.05 688.38,349.1 679.92,342.95 690.38,342.95" fill="none" stroke="#0072BD" stroke-width="4.4" stroke-linejoin="miter" stroke-miterlimit="10"/><polygon points="790.33,371.9 793.57,381.85 804.03,381.85 795.56,388 798.8,397.95 790.33,391.8 781.87,397.95 785.1,388 776.64,381.85 787.1,381.85" fill="none" stroke="#0072BD" stroke-width="4.4" stroke-linejoin="miter" stroke-miterlimit="10"/><polygon points="887.06,419.5 890.29,429.45 900.75,429.45 892.29,435.6 895.52,445.55 887.06,439.4 878.59,445.55 881.82,435.6 873.36,429.45 883.82,429.45" fill="none" stroke="#0072BD" stroke-width="4.4" stroke-linejoin="miter" stroke-miterlimit="10"/><polygon points="983.78,476.4 987.01,486.35 997.47,486.35 989.01,492.5 992.24,502.45 983.78,496.3 975.31,502.45 978.55,492.5 970.08,486.35 980.54,486.35" fill="none" stroke="#0072BD" stroke-width="4.4" stroke-linejoin="miter" stroke-miterlimit="10"/><polygon points="1080.5,546.1 1083.73,556.05 1094.2,556.05 1085.73,562.2 1088.96,572.15 1080.5,566 1072.04,572.15 1075.27,562.2 1066.8,556.05 1077.27,556.05" fill="none" stroke="#0072BD" stroke-width="4.4" stroke-linejoin="miter" stroke-miterlimit="10"/><polygon points="1177.22,629.8 1180.46,639.75 1190.92,639.75 1182.45,645.9 1185.69,655.85 1177.22,649.7 1168.76,655.85 1171.99,645.9 1163.53,639.75 1173.99,639.75" fill="none" stroke="#0072BD" stroke-width="4.4" stroke-linejoin="miter" stroke-miterlimit="10"/><polygon points="1273.94,736.9 1277.18,746.85 1287.64,746.85 1279.18,753 1282.41,762.95 1273.94,756.8 1265.48,762.95 1268.71,753 1260.25,746.85 1270.71,746.85" fill="none" stroke="#0072BD" stroke-width="4.4" stroke-linejoin="miter" stroke-miterlimit="10"/><polygon points="1370.67,861 1373.9,870.95 1384.36,870.95 1375.9,877.1 1379.13,887.05 1370.67,880.9 1362.2,887.05 1365.44,877.1 1356.97,870.95 1367.43,870.95" fill="none" stroke="#0072BD" stroke-width="4.4" stroke-linejoin="miter" stroke-miterlimit="10"/><polygon points="1467.39,1032.7 1470.62,1042.65 1481.08,1042.65 1472.62,1048.8 1475.85,1058.75 1467.39,1052.6 1458.92,1058.75 1462.16,1048.8 1453.69,1042.65 1464.16,1042.65" fill="none" stroke="#0072BD" stroke-width="4.4" stroke-linejoin="miter" stroke-miterlimit="10"/><polygon points="1564.11,1225.9 1567.34,1235.85 1577.81,1235.85 1569.34,1242 1572.58,1251.95 1564.11,1245.8 1555.65,1251.95 1558.88,1242 1550.42,1235.85 1560.88,1235.85" fill="none" stroke="#0072BD" stroke-width="4.4" stroke-linejoin="miter" stroke-miterlimit="10"/>
</g>
<rect x="232.5" y="743" width="740.4" height="653.9" fill="#fff" stroke="#262626" stroke-width="3.6"/>
<path d="M248 776.9H409.2" fill="none" stroke="#D95319" stroke-width="3.6" stroke-dasharray="4 8.82"/>
<circle cx="328.4" cy="776.9" r="5.7" fill="#D95319"/>
<text x="420" y="793.1" font-size="42.75" fill="#000">OFDM, 2 users</text>
<path d="M248 830.21H409.2" fill="none" stroke="#77AC30" stroke-width="3.6" stroke-dasharray="32.9 18.38"/>
<circle cx="328.4" cy="830.21" r="5.7" fill="#77AC30"/>
<text x="420" y="846.44" font-size="42.75" fill="#000">OFDM(no allocation), 2 users</text>
<path d="M248 883.52H409.2" fill="none" stroke="#0072BD" stroke-width="3.6"/>
<circle cx="328.4" cy="883.52" r="5.7" fill="#0072BD"/>
<text x="418.6" y="900.48" font-size="42.75" fill="#000">Proposed, 2 users</text>
<path d="M248 936.83H409.2" fill="none" stroke="#D95319" stroke-width="3.6" stroke-dasharray="4 8.82"/>
<path d="M316.8 925.23L340 948.43M316.8 948.43L340 925.23M312 936.83H344.8M328.4 920.43V953.23" fill="none" stroke="#D95319" stroke-width="4.4"/>
<text x="420" y="953.12" font-size="42.75" fill="#000">OFDM, 4 users</text>
<path d="M248 990.14H409.2" fill="none" stroke="#77AC30" stroke-width="3.6" stroke-dasharray="32.9 18.38"/>
<path d="M316.8 978.54L340 1001.74M316.8 1001.74L340 978.54M312 990.14H344.8M328.4 973.74V1006.54" fill="none" stroke="#77AC30" stroke-width="4.4"/>
<text x="420" y="1006.46" font-size="42.75" fill="#000">OFDM(no allocation), 4 users</text>
<path d="M248 1043.45H409.2" fill="none" stroke="#0072BD" stroke-width="3.6"/>
<path d="M316.8 1031.85L340 1055.05M316.8 1055.05L340 1031.85M312 1043.45H344.8M328.4 1027.05V1059.85" fill="none" stroke="#0072BD" stroke-width="4.4"/>
<text x="418.6" y="1060.5" font-size="42.75" fill="#000">Proposed, 4 users</text>
<path d="M248 1096.76H409.2" fill="none" stroke="#D95319" stroke-width="3.6" stroke-dasharray="4 8.82"/>
<path d="M316.8 1085.16L340 1108.36M316.8 1108.36L340 1085.16" fill="none" stroke="#D95319" stroke-width="4.4"/>
<text x="420" y="1113.14" font-size="42.75" fill="#000">OFDM, 8 users</text>
<path d="M248 1150.07H409.2" fill="none" stroke="#77AC30" stroke-width="3.6" stroke-dasharray="32.9 18.38"/>
<path d="M316.8 1138.47L340 1161.67M316.8 1161.67L340 1138.47" fill="none" stroke="#77AC30" stroke-width="4.4"/>
<text x="420" y="1166.48" font-size="42.75" fill="#000">OFDM(no allocation), 8 users</text>
<path d="M248 1203.38H409.2" fill="none" stroke="#0072BD" stroke-width="3.6"/>
<path d="M316.8 1191.78L340 1214.98M316.8 1214.98L340 1191.78" fill="none" stroke="#0072BD" stroke-width="4.4"/>
<text x="418.6" y="1220.52" font-size="42.75" fill="#000">Proposed, 8 users</text>
<path d="M248 1256.69H409.2" fill="none" stroke="#D95319" stroke-width="3.6" stroke-dasharray="4 8.82"/>
<polygon points="328.4,1242.29 331.63,1252.24 342.1,1252.24 333.63,1258.39 336.86,1268.34 328.4,1262.19 319.94,1268.34 323.17,1258.39 314.7,1252.24 325.17,1252.24" fill="none" stroke="#D95319" stroke-width="4.4" stroke-linejoin="miter" stroke-miterlimit="10"/>
<text x="420" y="1273.16" font-size="42.75" fill="#000">OFDM, 16 users</text>
<path d="M248 1310H409.2" fill="none" stroke="#77AC30" stroke-width="3.6" stroke-dasharray="32.9 18.38"/>
<polygon points="328.4,1295.6 331.63,1305.55 342.1,1305.55 333.63,1311.7 336.86,1321.65 328.4,1315.5 319.94,1321.65 323.17,1311.7 314.7,1305.55 325.17,1305.55" fill="none" stroke="#77AC30" stroke-width="4.4" stroke-linejoin="miter" stroke-miterlimit="10"/>
<text x="420" y="1326.5" font-size="42.75" fill="#000">OFDM(no allocation), 16 users</text>
<path d="M248 1363.31H409.2" fill="none" stroke="#0072BD" stroke-width="3.6"/>
<polygon points="328.4,1348.91 331.63,1358.86 342.1,1358.86 333.63,1365.01 336.86,1374.96 328.4,1368.81 319.94,1374.96 323.17,1365.01 314.7,1358.86 325.17,1358.86" fill="none" stroke="#0072BD" stroke-width="4.4" stroke-linejoin="miter" stroke-miterlimit="10"/>
<text x="418.6" y="1380.54" font-size="42.75" fill="#000">Proposed, 16 users</text>
<text x="208.8" y="1496.1" font-size="53.5" text-anchor="middle" fill="#262626">-10</text>
<text x="403.44" y="1496.1" font-size="53.5" text-anchor="middle" fill="#262626">-8</text>
<text x="596.89" y="1496.1" font-size="53.5" text-anchor="middle" fill="#262626">-6</text>
<text x="790.33" y="1496.1" font-size="53.5" text-anchor="middle" fill="#262626">-4</text>
<text x="983.78" y="1496.1" font-size="53.5" text-anchor="middle" fill="#262626">-2</text>
<text x="1177.22" y="1496.1" font-size="53.5" text-anchor="middle" fill="#262626">0</text>
<text x="1370.67" y="1496.1" font-size="53.5" text-anchor="middle" fill="#262626">2</text>
<text x="1564.11" y="1496.1" font-size="53.5" text-anchor="middle" fill="#262626">4</text>
<text x="1757.56" y="1496.1" font-size="53.5" text-anchor="middle" fill="#262626">6</text>
<text x="1951" y="1496.1" font-size="53.5" text-anchor="middle" fill="#262626">8</text>
<text x="110.1" y="78.8" font-size="53.5" fill="#262626">10<tspan dx="0.8" dy="-24.5" font-size="43.5">0</tspan></text>
<text x="94" y="354.58" font-size="53.5" fill="#262626">10<tspan dx="0.8" dy="-24.8" font-size="43.5">-1</tspan></text>
<text x="94" y="627.96" font-size="53.5" fill="#262626">10<tspan dx="0.8" dy="-26" font-size="43.5">-2</tspan></text>
<text x="94" y="903.74" font-size="53.5" fill="#262626">10<tspan dx="0.8" dy="-25.2" font-size="43.5">-3</tspan></text>
<text x="94" y="1175.82" font-size="53.5" fill="#262626">10<tspan dx="0.8" dy="-26" font-size="43.5">-4</tspan></text>
<text x="94" y="1451.9" font-size="53.5" fill="#262626">10<tspan dx="0.8" dy="-25.5" font-size="43.5">-5</tspan></text>
<text x="950.5" y="1567.1" font-size="59" fill="#262626">E<tspan dx="2.7" dy="28.9" font-size="47.5">b</tspan><tspan dx="0.6" dy="-28.9">/</tspan><tspan dx="3">N</tspan><tspan dx="3.3" dy="28.9" font-size="47.5">0</tspan><tspan dx="3.1" dy="-28.9">(dB)</tspan></text>
<text transform="translate(67 737.4) rotate(-90)" font-size="59" text-anchor="middle" fill="#262626">BER</text>
</svg></body></html>
